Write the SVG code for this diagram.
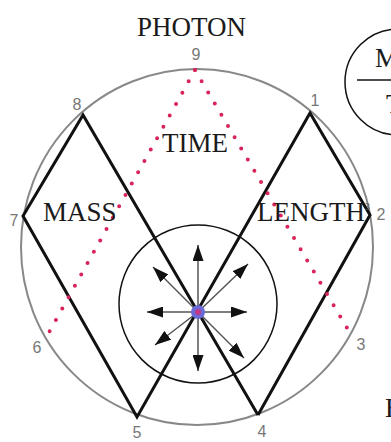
<svg xmlns="http://www.w3.org/2000/svg" width="391" height="442" viewBox="0 0 391 442">
<style>
.lbl{font-family:"Liberation Serif","Times New Roman",serif;font-size:27px;fill:#1a1a1a}
.num{font-family:"Liberation Sans",Arial,sans-serif;font-size:16px;fill:#777;text-anchor:middle}
.zig{stroke:#111;stroke-width:3;fill:none;stroke-linejoin:miter}
.dots{stroke:#d8245a;stroke-width:4;stroke-linecap:round;stroke-dasharray:0 13;fill:none}
.arr{stroke:#555;stroke-width:1.5;marker-end:url(#ah)}
</style>
<defs>
<marker id="ah" markerUnits="userSpaceOnUse" markerWidth="17" markerHeight="11" refX="16" refY="5.5" orient="auto">
<path d="M0,0 L16,5.5 L0,11 Z" fill="#111"/>
</marker>
</defs>
<rect width="391" height="442" fill="#fff"/>
<g id="outer-circle"><ellipse cx="197" cy="247" rx="176" ry="178" fill="none" stroke="#888" stroke-width="2"/></g>
<g id="inner-circle"><circle cx="198" cy="304" r="79" fill="none" stroke="#111" stroke-width="1.5"/></g>
<g id="connectors">
<polyline class="zig" points="258,415 83,115 23,216 137,417 310,113 370,215 258,415"/>
<line class="dots" x1="195" y1="70" x2="47" y2="336"/>
<line class="dots" x1="195" y1="70" x2="350" y2="333"/>
<line class="arr" x1="198" y1="312" x2="198" y2="245"/>
<line class="arr" x1="198" y1="312" x2="198" y2="371"/>
<line class="arr" x1="198" y1="312" x2="147" y2="312"/>
<line class="arr" x1="198" y1="312" x2="247" y2="312"/>
<line class="arr" x1="198" y1="312" x2="153" y2="267"/>
<line class="arr" x1="198" y1="312" x2="248" y2="264"/>
<line class="arr" x1="198" y1="312" x2="155" y2="345"/>
<line class="arr" x1="198" y1="312" x2="244" y2="358"/>
</g>
<g id="source"><circle cx="198" cy="312" r="7" fill="#6a6ad8"/><circle cx="198" cy="312" r="3" fill="#c0388a"/></g>
<g id="photon"><text class="lbl" x="137" y="36">PHOTON</text></g>
<g id="time"><text class="lbl" x="162" y="152">TIME</text></g>
<g id="mass"><text class="lbl" x="43" y="221">MASS</text></g>
<g id="length"><text class="lbl" x="257" y="221">LENGTH<tspan font-size="10" dy="-11" fill="#555">3</tspan></text></g>
<g id="fraction">
<circle cx="398" cy="82" r="53" fill="none" stroke="#111" stroke-width="1.5"/>
<line x1="357" y1="80" x2="391" y2="80" stroke="#111" stroke-width="1.5"/>
<text class="lbl" x="375" y="67">M</text>
<text class="lbl" x="386" y="113">T</text>
</g>
<g id="cut-text"><text class="lbl" x="385" y="417">E</text></g>
<g id="numbers">
<text class="num" x="196" y="60">9</text>
<text class="num" x="315" y="106">1</text>
<text class="num" x="381" y="220">2</text>
<text class="num" x="361" y="350">3</text>
<text class="num" x="262" y="437">4</text>
<text class="num" x="137" y="438">5</text>
<text class="num" x="37" y="353">6</text>
<text class="num" x="14" y="226">7</text>
<text class="num" x="77" y="110">8</text>
</g>
</svg>
